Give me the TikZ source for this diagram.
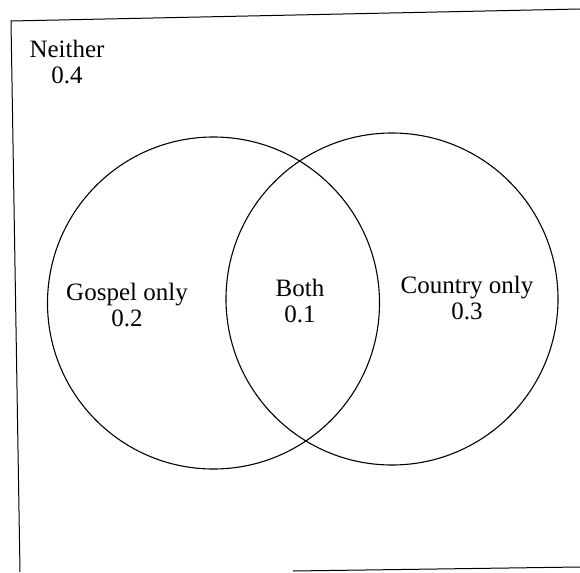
\documentclass[tikz,border=0pt]{standalone}
\usepackage{fontspec}
\setmainfont{Liberation Serif}
\usetikzlibrary{positioning}

\begin{document}
\begin{tikzpicture}[x=1pt,y=-1pt]
\tikzstyle{set}=[draw,circle,line width=1.1pt,minimum size=332pt,inner sep=0pt]
\tikzstyle{lbl}=[align=center,font=\fontsize{25}{26}\selectfont,inner sep=0pt]
   \useasboundingbox (0,0) rectangle (580,572);
   % frame (scan is slightly tilted)
   \coordinate (tl) at (11,21);
   \coordinate (tr) at (580,9);
   \coordinate (bl) at (20,572);
   \coordinate (bm) at (293,571);
   \coordinate (br) at (580,567);
   \path [draw,line width=1pt] (bl) -- (tl) -- (tr) ;
   \path [draw,line width=1pt] (bm) -- (br) ;

   \draw (213.5,303) node (gospel) [set] {};
   \draw (392,299) node (country) [set] {};

   \draw (67,62) node (neither) [lbl] {Neither\\0.4};
   \draw (127,305) node (gospelonly) [lbl] {Gospel only\\0.2};
   \draw (300,301) node (both) [lbl] {Both\\0.1};
   \draw (467,298) node (countryonly) [lbl] {Country only\\0.3};
\end{tikzpicture}
\end{document}
